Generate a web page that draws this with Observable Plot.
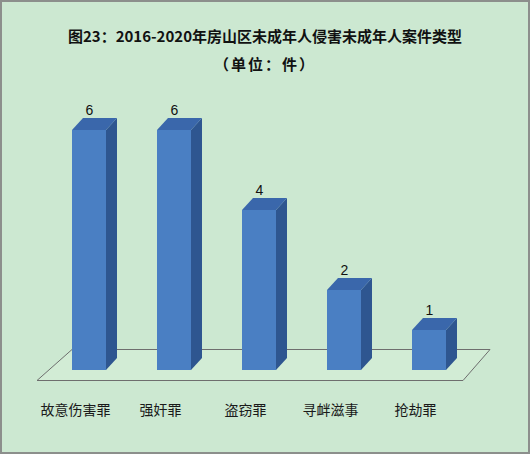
<!DOCTYPE html>
<html>
<head>
<meta charset="utf-8">
<script src="https://cdn.jsdelivr.net/npm/d3@7"></script>
<script src="https://cdn.jsdelivr.net/npm/@observablehq/plot@0.6"></script>
<style>
  html, body { margin: 0; padding: 0; background: #fff; }
  #wrap {
    position: relative; width: 530px; height: 454px; overflow: hidden;
    background: #cce8d1; box-shadow: inset 0 0 0 2px #8c8f8c;
    font-family: "Noto Sans CJK SC", "Noto Sans", sans-serif; color: #111;
  }
  #title { position: absolute; top: 26px; left: 0; width: 530px; text-align: center;
    font-size: 15px; font-weight: 700; line-height: 20px; }
  #subtitle { position: absolute; top: 54px; left: 0; width: 530px; text-align: center;
    font-size: 15px; font-weight: 700; line-height: 20px; letter-spacing: 2px; }
  #chart { position: absolute; top: 80px; left: 0; }
</style>
</head>
<body>
<div id="wrap">
  <div id="title">图23：2016-2020年房山区未成年人侵害未成年人案件类型</div>
  <div id="subtitle">（单位：件）</div>
  <div id="chart"></div>
</div>
<script>
const categories = ["故意伤害罪", "强奸罪", "盗窃罪", "寻衅滋事", "抢劫罪"];
const values = [6, 6, 4, 2, 1];

const data = categories.map((c, i) => ({cat: c, value: values[i]}));
const NS = "http://www.w3.org/2000/svg";
const DX = 11, DY = 12;

function poly(points, fill, stroke) {
  const p = document.createElementNS(NS, "polygon");
  p.setAttribute("points", points.map(q => q.join(",")).join(" "));
  p.setAttribute("fill", fill);
  if (stroke) { p.setAttribute("stroke", stroke); p.setAttribute("stroke-width", 1); }
  else p.setAttribute("stroke", "none");
  return p;
}

const chart = Plot.plot({
  width: 530,
  height: 374,
  marginTop: 0, marginBottom: 0, marginLeft: 0, marginRight: 0,
  style: {background: "transparent", overflow: "visible"},
  x: {domain: categories, range: [29.5, 488.5], paddingInner: 0.6, paddingOuter: 0.5, axis: null},
  y: {domain: [0, 6], range: [290, 50], axis: null},
  marks: [
    // floor
    Plot.ruleY([0], {
      stroke: "none",
      render(index, scales, vals, dims, ctx, next) {
        const g = next(index, scales, vals, dims, ctx);
        const line = g.querySelector("line");
        const y0 = +line.getAttribute("y1");
        const front = y0 + 10, back = y0 - 21;
        g.appendChild(poly([[37, front], [463, front], [490, back], [72, back]], "#d2ecd5", "#6e6e6e"));
        return g;
      }
    }),
    // bars with 3D faces
    Plot.barY(data, {
      x: "cat", y: "value", fill: "#4a7fc3",
      render(index, scales, vals, dims, ctx, next) {
        const g = next(index, scales, vals, dims, ctx);
        const rects = Array.from(g.querySelectorAll("rect"));
        for (const r of rects) {
          const x = +r.getAttribute("x"), y = +r.getAttribute("y");
          const w = +r.getAttribute("width"), h = +r.getAttribute("height");
          g.appendChild(poly([[x + w, y], [x + w + DX, y - DY], [x + w + DX, y + h - DY], [x + w, y + h]], "#2e5690"));
          g.appendChild(poly([[x, y], [x + DX, y - DY], [x + w + DX, y - DY], [x + w, y]], "#3a67ab"));
        }
        return g;
      }
    }),
    // value labels
    Plot.text(data, {
      x: "cat", y: "value", text: d => String(d.value), dy: -20,
      fontSize: 14, fill: "#111", fontFamily: "Liberation Sans, sans-serif"
    }),
    // category labels
    Plot.text(data, {
      x: "cat", y: () => 0, text: "cat", dy: 40, dx: -14,
      fontSize: 14, fill: "#1a1a1a", fontFamily: "Noto Sans CJK SC, sans-serif"
    })
  ]
});
document.getElementById("chart").appendChild(chart);
</script>
</body>
</html>
